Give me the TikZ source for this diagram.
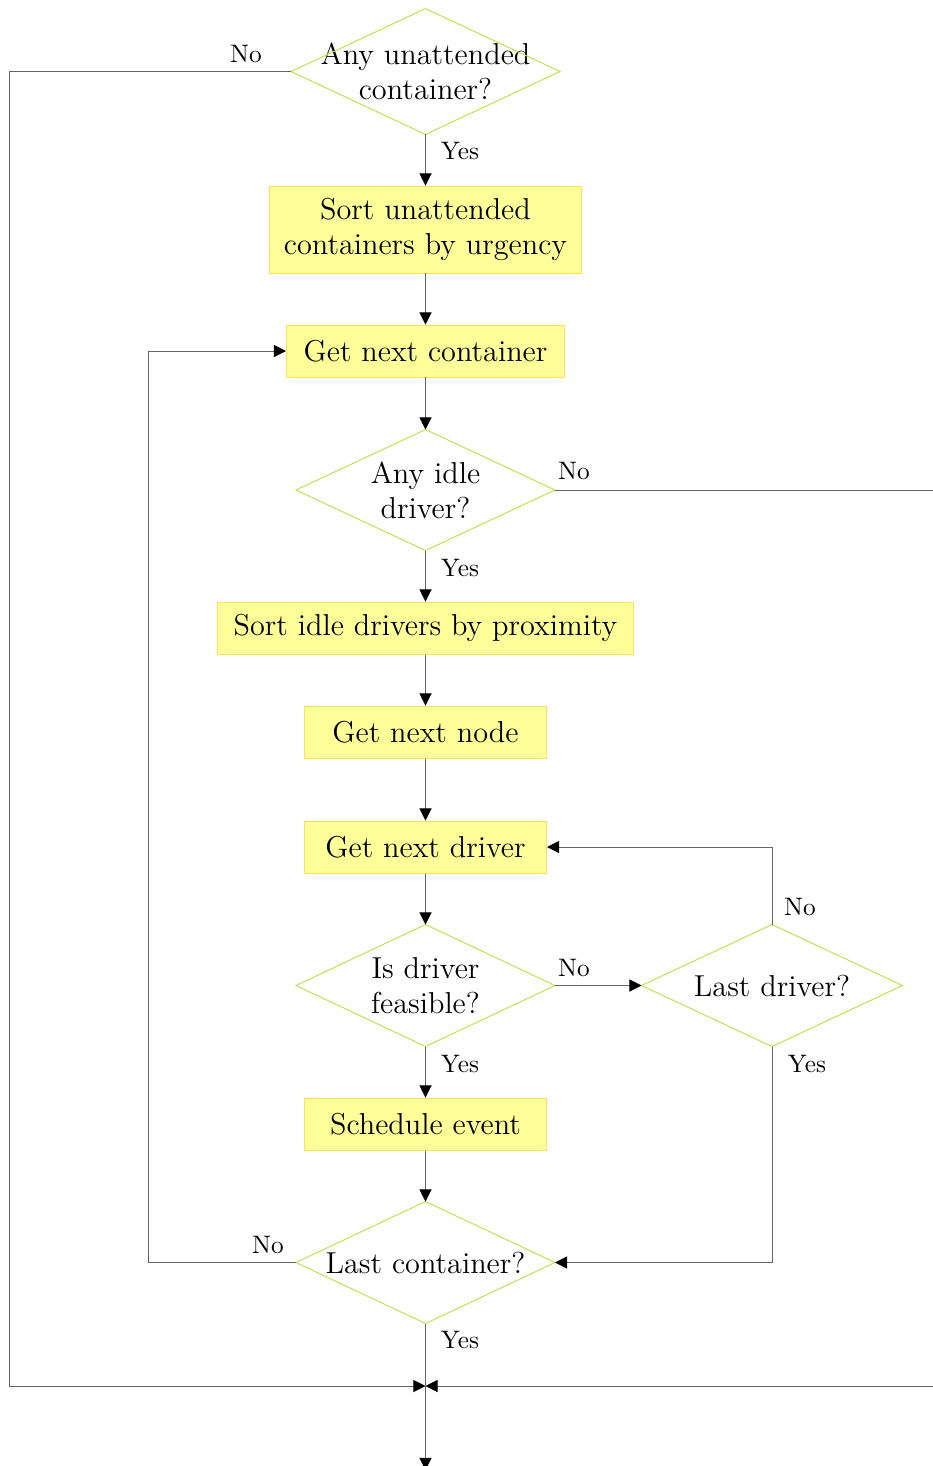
\documentclass[tikz,border=0pt]{standalone}
\usetikzlibrary{arrows.meta}
\definecolor{boxfill}{RGB}{255,255,153}
\definecolor{boxedge}{RGB}{255,224,90}
\definecolor{decedge}{RGB}{196,222,80}
\definecolor{wire}{RGB}{100,100,100}
\tikzset{
  every node/.style={font=\fontsize{12.45}{14.5}\selectfont, inner sep=0pt},
  procbox/.style={draw=boxedge, fill=boxfill, line width=0.4pt, align=center},
  decision/.style={align=center},
  decedge/.style={draw=decedge, line width=0.4pt},
  arr/.style={draw=wire, line width=0.4pt, -{Triangle[length=5pt,width=5pt,fill=black,color=black]}},
  lbl/.style={font=\fontsize{10.4}{12}\selectfont}
}
\begin{document}
\begin{tikzpicture}[x=0.41152pt, y=-0.41152pt]
\useasboundingbox (0,0) rectangle (933,1466);
\clip (0,0) rectangle (933,1466);

% process boxes
\node[procbox, minimum width=128.4pt, minimum height=35.8pt] (b1) at (425.5,229.5) {Sort unattended\\containers by urgency};
\node[procbox, minimum width=114.4pt, minimum height=21.4pt] (b2) at (425.5,351) {Get next container};
\node[procbox, minimum width=171.2pt, minimum height=21.4pt] (b3) at (425.5,628) {Sort idle drivers by proximity};
\node[procbox, minimum width=99.6pt, minimum height=21.4pt] (b4) at (425.5,732) {Get next node};
\node[procbox, minimum width=99.6pt, minimum height=21.4pt] (b5) at (425.5,847) {Get next driver};
\node[procbox, minimum width=99.6pt, minimum height=21.4pt] (b6) at (425.5,1124) {Schedule event};

% decisions (text frames; outlines drawn through their anchors)
\node[decision, minimum width=110.3pt, minimum height=51.4pt] (d1) at (425.5,71.5) {Any unattended\\container?};
\node[decision, minimum width=106.2pt, minimum height=49.4pt] (d2) at (425.5,490) {Any idle\\driver?};
\node[decision, minimum width=106.2pt, minimum height=49.8pt] (d3) at (425.5,985.5) {Is driver\\feasible?};
\node[decision, minimum width=107pt, minimum height=49.8pt] (d4) at (772,985.5) {Last driver?};
\node[decision, minimum width=106.2pt, minimum height=49.8pt] (d5) at (425.5,1262.5) {Last container?};
\foreach \d in {d1,d2,d3,d4,d5}
  \draw[decedge] (\d.north) -- (\d.east) -- (\d.south) -- (\d.west) -- cycle;

% junction points
\coordinate (merge) at (425.5,1386);
\coordinate (lft) at (9,1386);
\coordinate (rgt) at (960,1386);
\coordinate (loopc) at (148,351);
\coordinate (out) at (425.5,1470);

% main flow
\draw[arr] (d1.south) -- (b1.north);
\draw[arr] (b1.south) -- (b2.north);
\draw[arr] (b2.south) -- (d2.north);
\draw[arr] (d2.south) -- (b3.north);
\draw[arr] (b3.south) -- (b4.north);
\draw[arr] (b4.south) -- (b5.north);
\draw[arr] (b5.south) -- (d3.north);
\draw[arr] (d3.south) -- (b6.north);
\draw[arr] (b6.south) -- (d5.north);
\draw[arr] (d3.east) -- (d4.west);
\draw[arr] (d4.north) |- (b5.east);
\draw[arr] (d4.south) |- (d5.east);
\draw[arr] (d5.west) -| (loopc) -- (b2.west);
\draw[arr] (d1.west) -| (lft) -- (merge);
\draw[arr] (d2.east) -| (rgt) -- (merge);
\draw[arr] (d5.south) -- (out);

% branch labels
\node[lbl] (n1) at (246,54) {No};
\node[lbl] (y1) at (460,151) {Yes};
\node[lbl] (n2) at (574,471) {No};
\node[lbl] (y2) at (460,568) {Yes};
\node[lbl] (n3) at (574,968) {No};
\node[lbl] (y3) at (460,1064) {Yes};
\node[lbl] (n4) at (800,907) {No};
\node[lbl] (y4) at (807,1064) {Yes};
\node[lbl] (n5) at (268,1245) {No};
\node[lbl] (y5) at (460,1340) {Yes};
\end{tikzpicture}
\end{document}
